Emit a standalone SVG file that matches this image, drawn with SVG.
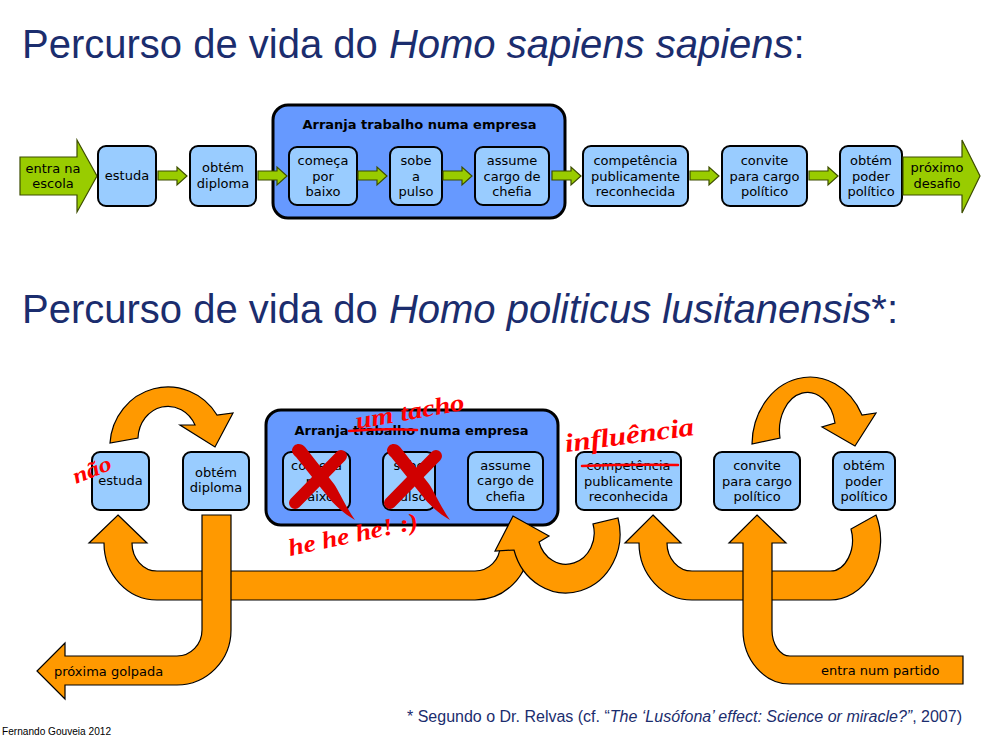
<svg xmlns="http://www.w3.org/2000/svg" width="1000" height="738" viewBox="0 0 1000 738">
<style>
.box{fill:#99CCFF;stroke:#000;stroke-width:2}
.cont{fill:#6699FF;stroke:#000;stroke-width:3}
.t{font-family:"DejaVu Sans",Verdana,sans-serif;font-size:13px;fill:#000;text-anchor:middle}
.tl{font-family:"DejaVu Sans",Verdana,sans-serif;font-size:13px;fill:#000}
.tb{font-family:"DejaVu Sans",Verdana,sans-serif;font-size:13px;font-weight:bold;fill:#000;text-anchor:middle}
.ga{fill:#99CC00;stroke:#3d4d00;stroke-width:1.2}
.oa{fill:#FF9900;stroke:#000;stroke-width:1.2;stroke-linejoin:miter}
.title{font-family:"Liberation Sans",Arial,sans-serif;font-size:40px;fill:#1b2d6e}
.hw{font-family:"Liberation Serif","Times New Roman",serif;font-style:italic;font-weight:bold;fill:#FF0000}
.xm{fill:#D00000}
.xs{stroke:#D00000;stroke-width:12;stroke-linecap:round;fill:none}
.strike{stroke:#FF0000;stroke-width:2.5;fill:none;stroke-linecap:round}
.foot{font-family:"Liberation Sans",Arial,sans-serif;fill:#1b2d6e}
</style>
<defs>
<path id="ga" d="M0,171 L19,171 L19,167 L29,176 L19,185 L19,180 L0,180 Z"/>
<g id="xmark">
<path class="xs" d="M341,456 L295,503"/>
<path class="xm" d="M292,450 C293,443 301,442 305,447 L334,484 C340,493 347,509 355,520 C343,513 333,504 325,493 L296,457 C293,455 292,452 292,450 Z"/>
</g>
</defs>
<rect width="1000" height="738" fill="#fff"/>

<text class="title" x="22" y="58">Percurso de vida do <tspan font-style="italic">Homo sapiens sapiens</tspan>:</text>
<text class="title" x="22" y="323">Percurso de vida do <tspan font-style="italic">Homo politicus lusitanensis</tspan>*:</text>

<!-- top row nodes -->
<g id="top-entra">
<path class="ga" d="M20,157 L77,157 L77,140 L97,176 L77,212 L77,195 L20,195 Z"/>
<text class="t" x="53" y="172.5">entra na</text>
<text class="t" x="53" y="187.5">escola</text>
</g>
<g id="top-estuda"><rect class="box" x="98" y="146" width="58" height="60" rx="8"/><text class="t" x="127" y="180">estuda</text></g>
<g id="top-diploma"><rect class="box" x="190" y="146" width="66" height="60" rx="8"/><text class="t" x="223" y="172">obtém</text><text class="t" x="223" y="187.5">diploma</text></g>
<g id="top-empresa">
<rect class="cont" x="273" y="105" width="292" height="113" rx="15"/>
<text class="tb" x="419.5" y="129">Arranja trabalho numa empresa</text>
</g>
<g id="top-comeca"><rect class="box" x="289" y="147" width="68" height="58" rx="8"/><text class="t" x="323" y="165">começa</text><text class="t" x="323" y="180.5">por</text><text class="t" x="323" y="196">baixo</text></g>
<g id="top-sobe"><rect class="box" x="390" y="147" width="52" height="58" rx="8"/><text class="t" x="416" y="165">sobe</text><text class="t" x="416" y="180.5">a</text><text class="t" x="416" y="196">pulso</text></g>
<g id="top-assume"><rect class="box" x="475" y="147" width="74" height="58" rx="8"/><text class="t" x="512" y="165">assume</text><text class="t" x="512" y="180.5">cargo de</text><text class="t" x="512" y="196">chefia</text></g>
<g id="top-competencia"><rect class="box" x="583" y="146" width="105" height="60" rx="8"/><text class="t" x="635.5" y="165">competência</text><text class="t" x="635.5" y="180.5">publicamente</text><text class="t" x="635.5" y="196">reconhecida</text></g>
<g id="top-convite"><rect class="box" x="722" y="146" width="85" height="60" rx="8"/><text class="t" x="764.5" y="165">convite</text><text class="t" x="764.5" y="180.5">para cargo</text><text class="t" x="764.5" y="196">político</text></g>
<g id="top-poder"><rect class="box" x="840" y="146" width="62" height="60" rx="8"/><text class="t" x="871" y="165">obtém</text><text class="t" x="871" y="180.5">poder</text><text class="t" x="871" y="196">político</text></g>
<g id="top-proximo">
<path class="ga" d="M903,157 L962,157 L962,140 L980,176 L962,213 L962,195 L903,195 Z"/>
<text class="t" x="937" y="172">próximo</text>
<text class="t" x="937" y="187.5">desafio</text>
</g>

<!-- bottom row nodes -->
<g id="bot-estuda"><rect class="box" x="92" y="452" width="57" height="58" rx="8"/><text class="t" x="120.5" y="485">estuda</text></g>
<g id="bot-diploma"><rect class="box" x="183" y="452" width="66" height="58" rx="8"/><text class="t" x="216" y="477">obtém</text><text class="t" x="216" y="492">diploma</text></g>
<g id="bot-empresa">
<rect class="cont" x="266" y="410" width="292" height="115" rx="15"/>
<text class="tb" x="411.5" y="435">Arranja trabalho numa empresa</text>
</g>
<g id="bot-comeca"><rect class="box" x="283" y="452" width="67" height="58" rx="8"/><text class="t" x="316.5" y="470">começa</text><text class="t" x="316.5" y="485.5">por</text><text class="t" x="316.5" y="501">baixo</text></g>
<g id="bot-sobe"><rect class="box" x="383" y="452" width="52" height="58" rx="8"/><text class="t" x="409" y="470">sobe</text><text class="t" x="409" y="485.5">a</text><text class="t" x="409" y="501">pulso</text></g>
<g id="bot-assume"><rect class="box" x="468" y="452" width="75" height="58" rx="8"/><text class="t" x="505.5" y="469.5">assume</text><text class="t" x="505.5" y="485">cargo de</text><text class="t" x="505.5" y="500.5">chefia</text></g>
<g id="bot-competencia"><rect class="box" x="576" y="452" width="105" height="58" rx="8"/><text class="t" x="628.5" y="470">competência</text><text class="t" x="628.5" y="485.5">publicamente</text><text class="t" x="628.5" y="501">reconhecida</text></g>
<g id="bot-convite"><rect class="box" x="714" y="452" width="86" height="58" rx="8"/><text class="t" x="757" y="470">convite</text><text class="t" x="757" y="485.5">para cargo</text><text class="t" x="757" y="501">político</text></g>
<g id="bot-poder"><rect class="box" x="833" y="452" width="62" height="58" rx="8"/><text class="t" x="864" y="470">obtém</text><text class="t" x="864" y="485.5">poder</text><text class="t" x="864" y="501">político</text></g>

<!-- connectors -->
<g id="connectors">
<use href="#ga" class="ga" transform="translate(158,0)"/>
<use href="#ga" class="ga" transform="translate(258,0)"/>
<use href="#ga" class="ga" transform="translate(358,0)"/>
<use href="#ga" class="ga" transform="translate(443,0)"/>
<use href="#ga" class="ga" transform="translate(552,0)"/>
<use href="#ga" class="ga" transform="translate(690,0)"/>
<use href="#ga" class="ga" transform="translate(809,0)"/>

<path class="oa" d="M110,443 A58,60 0 0 1 217,415 L233,413 L215,447 L180,425 L195,425 A30,33 0 0 0 138,438 Z"/>
<path class="oa" d="M752,444 A58,68 0 0 1 862,415 L876,413 L855,446 L822,427 L835,423 A28,38 0 0 0 780,438 Z"/>

<path class="oa" d="M118,515 L147,543 L132,543 A25,28 0 0 0 157,571 L475,571 A25,25 0 0 0 500,546 L529,546 A54,54 0 0 1 475,600 L157,600 A53,57 0 0 1 104,543 L89,543 Z"/>
<path class="oa" d="M618,518 A54,59 0 0 1 514,550 L495,551 L513,516 L549,536 L539,542 A28,31 0 0 0 593,524 Z"/>
<path class="oa" d="M202,515 L231,515 L231,630 A54,55 0 0 1 177,685 L65,685 L65,699 L37,671 L65,643 L65,656 L177,656 A25,26 0 0 0 202,630 Z"/>
<text class="tl" x="54" y="676">próxima golpada</text>

<path class="oa" d="M653,515 L681,543 L667,543 A25,28 0 0 0 692,571 L830,571 A22,31 0 0 0 851,529 L876,515 A51,60 0 0 1 830,600 L692,600 A53,57 0 0 1 639,543 L625,543 Z"/>
<path class="oa" d="M757,515 L786,543 L772,543 L772,630 A18,26 0 0 0 790,656 L963,656 L963,684 L790,684 A47,54 0 0 1 743,630 L743,543 L729,543 Z"/>
<text class="tl" x="821" y="675">entra num partido</text>
</g>

<!-- annotations -->
<g id="annotations">
<use href="#xmark"/>
<use href="#xmark" transform="translate(95,0)"/>
<path class="strike" d="M349,431 Q383,428 417,430"/>
<path class="strike" d="M582,466 Q630,464 678,465"/>
<text class="hw" font-size="22" textLength="40" lengthAdjust="spacingAndGlyphs" transform="translate(76,484) rotate(-22)">não</text>
<text class="hw" font-size="24" textLength="110" lengthAdjust="spacingAndGlyphs" transform="translate(357,429) rotate(-10)">um tacho</text>
<text class="hw" font-size="24" textLength="132" lengthAdjust="spacingAndGlyphs" transform="translate(290,556) rotate(-12)">he he he! :)</text>
<text class="hw" font-size="26" textLength="130" lengthAdjust="spacingAndGlyphs" transform="translate(566,452) rotate(-7.5)">influência</text>
</g>

<text class="foot" x="407" y="722" font-size="16" textLength="555" lengthAdjust="spacingAndGlyphs">* Segundo o Dr. Relvas (cf. “<tspan font-style="italic">The ‘Lusófona’ effect: Science or miracle?”</tspan>, 2007)</text>
<text font-family="Liberation Sans, Arial, sans-serif" font-size="10" fill="#000" x="2" y="735" textLength="109" lengthAdjust="spacingAndGlyphs">Fernando Gouveia 2012</text>
</svg>
